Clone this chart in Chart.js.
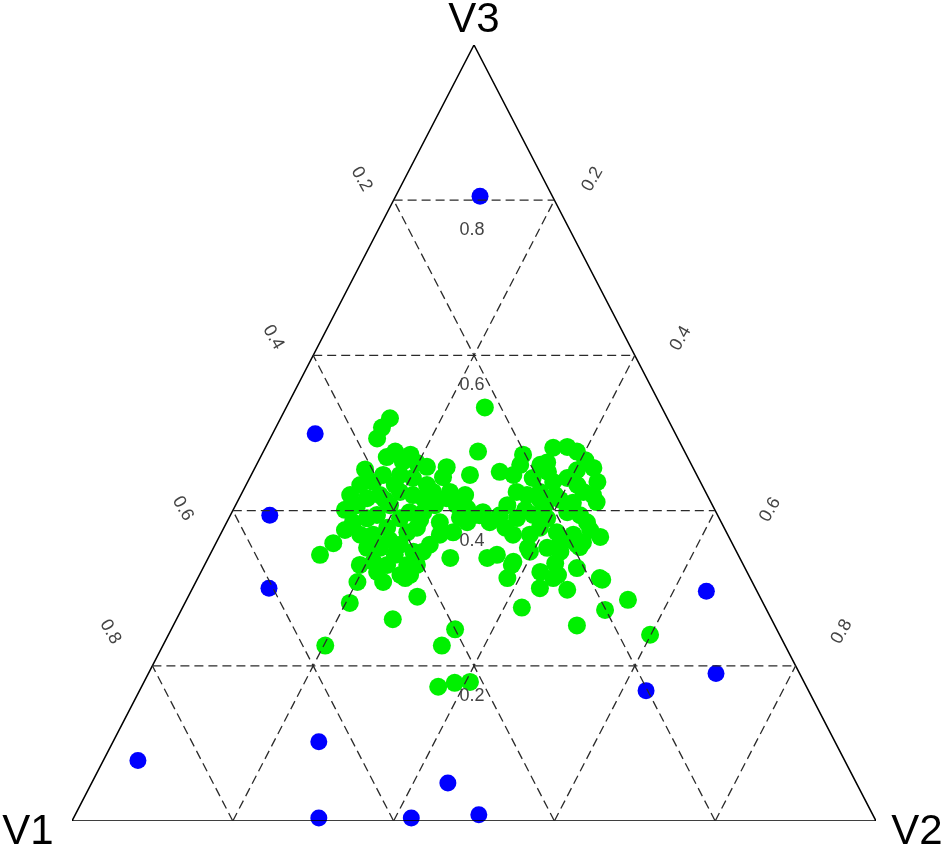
<!DOCTYPE html>
<html>
<head>
<meta charset="utf-8">
<title>Ternary plot</title>
<script src="https://cdn.jsdelivr.net/npm/chart.js@4.4.1/dist/chart.umd.min.js"></script>
<style>
  html, body { margin: 0; padding: 0; background: #fff; }
  #wrap { width: 945px; height: 851px; }
</style>
</head>
<body>
<div id="wrap"><canvas id="ternary"></canvas></div>
<script>
'use strict';

//
// Ternary plot (V1, V2, V3)
//

var axisNames = ['V1', 'V2', 'V3'];
var tickValues = [0.2, 0.4, 0.6, 0.8];
var tickLabels = ['0.2', '0.4', '0.6', '0.8'];

// blue group
var blueV1 = [0.090, 0.448, 0.557, 0.605, 0.879, 0.642, 0.691, 0.576, 0.508, 0.490, 0.063, 0.104, 0.202];
var blueV2 = [0.105, 0.053, 0.049, 0.095, 0.043, 0.256, 0.305, 0.420, 0.443, 0.502, 0.641, 0.706, 0.630];
var blueV3 = [0.805, 0.499, 0.394, 0.300, 0.078, 0.102, 0.004, 0.004, 0.049, 0.008, 0.296, 0.190, 0.168];

// green group
var greenV1 = [
  0.345, 0.361, 0.374, 0.360, 0.374, 0.357, 0.340, 0.330, 0.306, 0.317,
  0.425, 0.407, 0.390, 0.369, 0.355, 0.342, 0.339, 0.444, 0.442, 0.453,
  0.425, 0.407, 0.380, 0.366, 0.355, 0.326, 0.318, 0.307, 0.318, 0.458,
  0.438, 0.423, 0.397, 0.381, 0.364, 0.457, 0.441, 0.419, 0.397, 0.382,
  0.350, 0.358, 0.340, 0.316, 0.304, 0.290, 0.457, 0.441, 0.414, 0.402,
  0.390, 0.477, 0.458, 0.443, 0.418, 0.433, 0.491, 0.460, 0.421, 0.496,
  0.520, 0.360, 0.282, 0.257, 0.220, 0.314, 0.300, 0.514, 0.572, 0.471,
  0.426, 0.400, 0.427, 0.458, 0.435, 0.415, 0.429, 0.401, 0.424, 0.460,
  0.459, 0.243, 0.228, 0.203, 0.161, 0.143, 0.134, 0.178, 0.124, 0.128,
  0.142, 0.142, 0.206, 0.235, 0.255, 0.224, 0.206, 0.183, 0.163, 0.155,
  0.152, 0.271, 0.251, 0.229, 0.214, 0.185, 0.171, 0.167, 0.288, 0.296,
  0.267, 0.246, 0.229, 0.211, 0.192, 0.185, 0.160, 0.284, 0.257, 0.233,
  0.219, 0.194, 0.302, 0.257, 0.245, 0.209, 0.187, 0.268, 0.235, 0.166,
  0.303, 0.246, 0.201, 0.161, 0.237, 0.288, 0.185, 0.233, 0.257, 0.192,
  0.220, 0.186, 0.208, 0.172, 0.188, 0.272, 0.409, 0.382, 0.373, 0.377,
  0.473, 0.427, 0.345, 0.322, 0.343, 0.301, 0.404, 0.406, 0.213, 0.183,
  0.129, 0.236, 0.189, 0.168, 0.206, 0.211, 0.146
];
var greenV2 = [
  0.136, 0.132, 0.133, 0.164, 0.157, 0.180, 0.198, 0.213, 0.238, 0.240,
  0.142, 0.156, 0.164, 0.185, 0.203, 0.225, 0.237, 0.136, 0.151, 0.144,
  0.159, 0.173, 0.196, 0.214, 0.229, 0.258, 0.275, 0.290, 0.258, 0.157,
  0.172, 0.182, 0.213, 0.221, 0.238, 0.174, 0.190, 0.203, 0.231, 0.240,
  0.265, 0.273, 0.288, 0.299, 0.302, 0.312, 0.191, 0.207, 0.230, 0.251,
  0.263, 0.193, 0.208, 0.227, 0.252, 0.250, 0.201, 0.219, 0.262, 0.146,
  0.137, 0.301, 0.272, 0.267, 0.247, 0.347, 0.357, 0.205, 0.202, 0.269,
  0.285, 0.353, 0.347, 0.369, 0.387, 0.405, 0.258, 0.192, 0.214, 0.139,
  0.233, 0.307, 0.326, 0.325, 0.358, 0.375, 0.390, 0.360, 0.421, 0.435,
  0.438, 0.447, 0.352, 0.341, 0.338, 0.356, 0.370, 0.380, 0.395, 0.412,
  0.424, 0.335, 0.358, 0.376, 0.396, 0.417, 0.435, 0.448, 0.327, 0.310,
  0.364, 0.385, 0.393, 0.417, 0.439, 0.456, 0.474, 0.382, 0.396, 0.415,
  0.434, 0.450, 0.385, 0.422, 0.442, 0.465, 0.500, 0.432, 0.467, 0.549,
  0.422, 0.502, 0.527, 0.599, 0.446, 0.382, 0.504, 0.435, 0.391, 0.455,
  0.427, 0.400, 0.385, 0.418, 0.353, 0.350, 0.138, 0.185, 0.239, 0.267,
  0.152, 0.230, 0.248, 0.287, 0.185, 0.279, 0.182, 0.264, 0.328, 0.367,
  0.406, 0.363, 0.391, 0.457, 0.432, 0.375, 0.402
];
var greenV3 = [
  0.519, 0.507, 0.493, 0.476, 0.469, 0.463, 0.461, 0.456, 0.456, 0.443,
  0.433, 0.437, 0.446, 0.446, 0.442, 0.433, 0.424, 0.420, 0.407, 0.403,
  0.416, 0.420, 0.424, 0.420, 0.416, 0.416, 0.407, 0.403, 0.424, 0.385,
  0.390, 0.394, 0.390, 0.398, 0.398, 0.369, 0.369, 0.378, 0.372, 0.378,
  0.385, 0.369, 0.372, 0.385, 0.394, 0.398, 0.352, 0.352, 0.356, 0.347,
  0.347, 0.330, 0.334, 0.330, 0.330, 0.317, 0.308, 0.321, 0.317, 0.358,
  0.343, 0.339, 0.446, 0.476, 0.533, 0.339, 0.343, 0.281, 0.226, 0.260,
  0.289, 0.247, 0.226, 0.173, 0.178, 0.179, 0.313, 0.407, 0.362, 0.401,
  0.308, 0.450, 0.446, 0.472, 0.481, 0.482, 0.476, 0.462, 0.455, 0.437,
  0.420, 0.411, 0.442, 0.424, 0.407, 0.420, 0.424, 0.437, 0.442, 0.433,
  0.424, 0.394, 0.390, 0.394, 0.390, 0.398, 0.394, 0.385, 0.385, 0.394,
  0.369, 0.369, 0.378, 0.372, 0.369, 0.359, 0.366, 0.334, 0.347, 0.352,
  0.347, 0.356, 0.313, 0.321, 0.313, 0.326, 0.313, 0.300, 0.298, 0.285,
  0.275, 0.252, 0.272, 0.240, 0.317, 0.330, 0.311, 0.332, 0.352, 0.353,
  0.353, 0.414, 0.407, 0.410, 0.459, 0.378, 0.453, 0.433, 0.388, 0.356,
  0.375, 0.343, 0.407, 0.391, 0.472, 0.420, 0.414, 0.330, 0.459, 0.450,
  0.465, 0.401, 0.420, 0.375, 0.362, 0.414, 0.452
];

// composition -> cartesian (V1 bottom left, V2 bottom right, V3 top)
function toXY(v1, v2, v3) {
  var s = v1 + v2 + v3;
  return { x: (v2 + v3 / 2) / s, y: v3 / s };
}

function series(a, b, c) {
  return a.map(function (v, i) { return toXY(v, b[i], c[i]); });
}

var lineSets = [];

function addLine(pts, dashed) {
  lineSets.push({
    data: pts,
    showLine: true,
    pointRadius: 0,
    pointHitRadius: 0,
    borderColor: dashed ? '#2a2a2a' : '#000000',
    borderWidth: dashed ? 1.3 : 1.5,
    borderDash: dashed ? [9, 5] : [],
    fill: false,
    order: 0
  });
}

// grid lines
tickValues.forEach(function (t) {
  addLine([toXY(1 - t, 0, t), toXY(0, 1 - t, t)], true);
  addLine([toXY(t, 1 - t, 0), toXY(t, 0, 1 - t)], true);
  addLine([toXY(1 - t, t, 0), toXY(0, t, 1 - t)], true);
});

// outline
addLine([toXY(1, 0, 0), toXY(0, 1, 0), toXY(0, 0, 1), toXY(1, 0, 0)], false);

var pointSets = [
  {
    label: 'green',
    data: series(greenV1, greenV2, greenV3),
    pointRadius: 9,
    pointHoverRadius: 9.5,
    pointBorderWidth: 0,
    backgroundColor: '#00f000',
    borderColor: '#00f000',
    clip: false,
    order: 2
  },
  {
    label: 'blue',
    data: series(blueV1, blueV2, blueV3),
    pointRadius: 8.5,
    pointHoverRadius: 9,
    pointBorderWidth: 0,
    backgroundColor: '#0000ff',
    borderColor: '#0000ff',
    clip: false,
    order: 1
  }
];

var labelPlugin = {
  id: 'ternaryLabels',
  afterDatasetsDraw: function (chart) {
    var ctx = chart.ctx;
    var xs = chart.scales.x, ys = chart.scales.y;
    function pos(v1, v2, v3) {
      var p = toXY(v1, v2, v3);
      return [xs.getPixelForValue(p.x), ys.getPixelForValue(p.y)];
    }
    ctx.save();
    ctx.textAlign = 'center';
    ctx.textBaseline = 'middle';

    // corner names
    ctx.fillStyle = '#000';
    ctx.font = '42px "Liberation Sans", Arial, sans-serif';
    var corners = [pos(1, 0, 0), pos(0, 1, 0), pos(0, 0, 1)];
    var cornerOff = [[-44, 11], [41, 11], [0, -25]];
    corners.forEach(function (c, i) {
      ctx.fillText(axisNames[i], c[0] + cornerOff[i][0], c[1] + cornerOff[i][1]);
    });

    // tick labels
    ctx.fillStyle = '#444';
    ctx.font = '18px "Liberation Sans", Arial, sans-serif';
    var leftOff = [[-32, -21], [-40, -18], [-50, -2], [-42, -34]];
    var rightOff = [[38, -21], [46, -17], [55, -1], [46, -34]];
    tickValues.forEach(function (t, i) {
      // V3 labels in the middle, under each horizontal line
      var m = pos((1 - t) / 2, (1 - t) / 2, t);
      ctx.fillText(tickLabels[i], m[0] - 2, m[1] + 30);

      // V1 labels along the left side
      var l = pos(t, 0, 1 - t);
      ctx.save();
      ctx.translate(l[0] + leftOff[i][0], l[1] + leftOff[i][1]);
      ctx.rotate(Math.PI / 3);
      ctx.fillText(tickLabels[i], 0, 0);
      ctx.restore();

      // V2 labels along the right side
      var r = pos(0, t, 1 - t);
      ctx.save();
      ctx.translate(r[0] + rightOff[i][0], r[1] + rightOff[i][1]);
      ctx.rotate(-Math.PI / 3);
      ctx.fillText(tickLabels[i], 0, 0);
      ctx.restore();
    });
    ctx.restore();
  }
};

var ctx = document.getElementById('ternary').getContext('2d');
var chart = new Chart(ctx, {
  type: 'scatter',
  data: { datasets: pointSets.concat(lineSets) },
  options: {
    responsive: true,
    maintainAspectRatio: false,
    animation: false,
    layout: { padding: { left: 72, right: 69, top: 45, bottom: 30 } },
    scales: {
      x: { type: 'linear', min: 0, max: 1, display: false },
      y: { type: 'linear', min: 0, max: 1, display: false }
    },
    plugins: {
      legend: { display: false },
      tooltip: {
        filter: function (item) { return item.datasetIndex < 2; },
        callbacks: {
          label: function (item) {
            var i = item.dataIndex;
            var g = item.datasetIndex === 0;
            var a = g ? greenV1 : blueV1, b = g ? greenV2 : blueV2, c = g ? greenV3 : blueV3;
            return 'V1 ' + a[i] + ', V2 ' + b[i] + ', V3 ' + c[i];
          }
        }
      }
    }
  },
  plugins: [labelPlugin]
});
</script>
</body>
</html>
